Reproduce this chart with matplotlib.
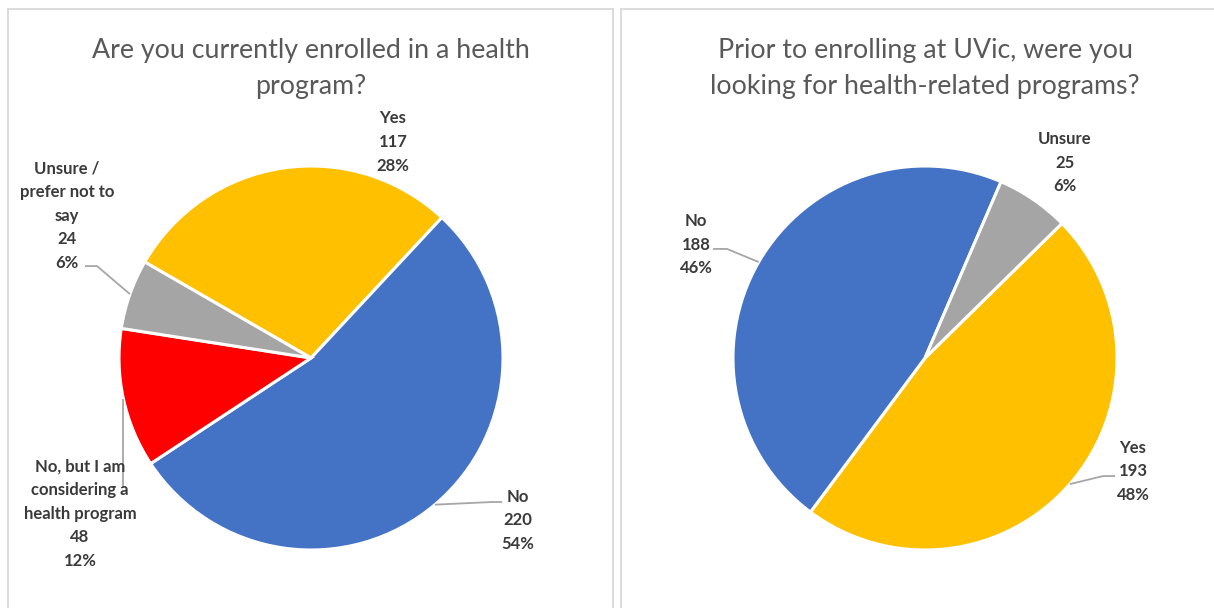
import matplotlib
matplotlib.use("Agg")
import numpy as np
import matplotlib.pyplot as plt

plt.rcParams['font.family'] = ['Lato', 'DejaVu Sans']

# Left chart: current enrolment
left_title = "Are you currently enrolled in a health\nprogram?"
left_labels = ["Yes", "No", "No, but I am\nconsidering a\nhealth program", "Unsure /\nprefer not to\nsay"]
left_counts = [117, 220, 48, 24]
left_pct = [28, 54, 12, 6]
left_colors = ["#FFC000", "#4472C4", "#FF0000", "#A5A5A5"]

# Right chart: looking for health programs before enrolling
right_title = "Prior to enrolling at UVic, were you\nlooking for health-related programs?"
right_labels = ["Yes", "No", "Unsure"]
right_counts = [193, 188, 25]
right_pct = [48, 46, 6]
right_colors = ["#FFC000", "#4472C4", "#A5A5A5"]

# label anchor (in pie radii) and leader path after leaving the wedge
left_label_pos = [(0.427, 1.125), (1.078, -0.844), (-1.203, -0.812), (-1.271, 0.740)]
left_leaders = [None,
                [(0.943, -0.75), (0.995, -0.75)],
                [(None, -0.677)],
                [(-1.115, 0.479), (-1.177, 0.479)]]
right_label_pos = [(1.083, -0.589), (-1.193, 0.589), (0.729, 1.016)]
right_leaders = [[(0.927, -0.615), (0.990, -0.615)],
                 [(-1.031, 0.568), (-1.104, 0.568)],
                 None]

W, H = 1214, 608
fig = plt.figure(figsize=(W / 100, H / 100), dpi=100)

TEXT = "#3A3A3A"
TITLE = "#595959"
BORDER = "#D9D9D9"
LEADER = "#A6A6A6"


def panel(x0, y0, x1, y1, cx, cy, r):
    ax = fig.add_axes([x0 / W, 1 - y1 / H, (x1 - x0) / W, (y1 - y0) / H])
    lims = ((x0 - cx) / r, (x1 - cx) / r), ((cy - y1) / r, (cy - y0) / r)
    return ax, lims


def draw_pie(ax, lims, title, labels, counts, pct, colors, startangle, label_pos, leaders):
    wedges, _ = ax.pie(counts, colors=colors, startangle=startangle, counterclock=False,
                       radius=1, wedgeprops=dict(edgecolor="white", linewidth=2.2))
    for w, lab, n, p, pos, lead in zip(wedges, labels, counts, pct, label_pos, leaders):
        ax.text(pos[0], pos[1], f"{lab}\n{n}\n{p}%", ha="center", va="center",
                fontsize=12, fontweight="bold", color=TEXT, linespacing=1.58)
        if lead is None:
            continue
        mid = np.deg2rad((w.theta1 + w.theta2) / 2)
        wx, wy = np.cos(mid), np.sin(mid)
        xs, ys = [wx], [wy]
        for px, py in lead:
            xs.append(wx if px is None else px)
            ys.append(py)
        ax.plot(xs, ys, color=LEADER, lw=1.3, solid_capstyle="butt")
    ax.text(0, 1.51, title, ha="center", va="center", fontsize=19.3,
            fontweight="normal", color=TITLE, linespacing=1.55)
    ax.set_aspect("auto")
    ax.set_xlim(*lims[0])
    ax.set_ylim(*lims[1])
    ax.set_frame_on(True)
    ax.set_xticks([])
    ax.set_yticks([])
    for s in ax.spines.values():
        s.set_color(BORDER)
        s.set_linewidth(1.3)


axl, liml = panel(8, 9, 613, 620, 311, 358, 192)
draw_pie(axl, liml, left_title, left_labels, left_counts, left_pct, left_colors,
         150, left_label_pos, left_leaders)

axr, limr = panel(621, 9, 1230, 620, 925, 358, 192)
draw_pie(axr, limr, right_title, right_labels, right_counts, right_pct, right_colors,
         44.5, right_label_pos, right_leaders)

fig.savefig("out.png", dpi=100)
